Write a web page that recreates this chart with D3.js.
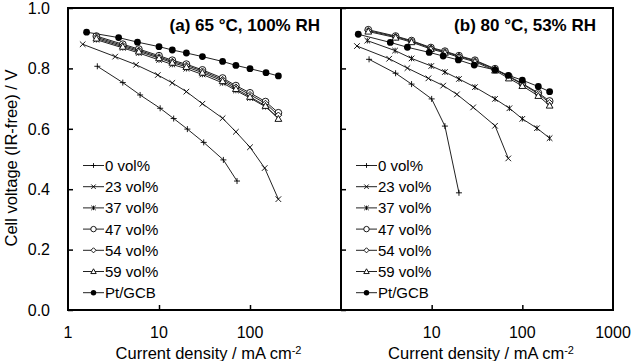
<!DOCTYPE html>
<html>
<head>
<meta charset="utf-8">
<script src="https://cdn.jsdelivr.net/npm/d3@7"></script>
<style>
  body { margin: 0; background: #fff; }
  text { font-family: "Liberation Sans", Arial, sans-serif; fill: #000; }
</style>
</head>
<body>
<div id="chart"></div>
<script>
// series names and marker kinds (legend order)
var seriesNames = ["0 vol%", "23 vol%", "37 vol%", "47 vol%", "54 vol%", "59 vol%", "Pt/GCB"];
var markerKinds = ["plus", "cross", "star", "circle", "diamond", "triangle", "dot"];

// (a) 65 °C, 100% RH   -- [current density mA cm-2, cell voltage V]
var a0  = [[2.1,.807],[4,.753],[6.2,.712],[10.3,.668],[14.5,.634],[20.5,.599],[31,.555],[51,.497],[72,.427]];
var a23 = [[1.45,.880],[3.3,.839],[5.6,.812],[9.7,.778],[14,.752],[20,.723],[30,.683],[50,.635],[70,.590],[100,.539],[145,.470],[205,.367]];
var a37 = [[2.05,.895],[4,.868],[6,.851],[10,.828],[14,.813],[20,.799],[30,.780],[50,.752],[70,.727],[100,.702],[148,.673],[205,.636]];
var a47 = [[2.05,.907],[4,.880],[6,.864],[10,.842],[14,.827],[20,.814],[30,.795],[50,.768],[70,.743],[100,.719],[148,.690],[205,.653]];
var a54 = [[2.05,.903],[4,.876],[6,.860],[10,.838],[14,.823],[20,.810],[30,.791],[50,.763],[70,.738],[100,.713],[148,.684],[205,.645]];
var a59 = [[2.05,.899],[4,.872],[6,.856],[10,.834],[14,.819],[20,.805],[30,.786],[50,.758],[70,.732],[100,.706],[148,.676],[205,.633]];
var aPt = [[1.6,.920],[3.6,.902],[5.8,.887],[10,.872],[14,.861],[20,.851],[30,.839],[50,.823],[70,.810],[100,.799],[150,.786],[205,.775]];

// (b) 80 °C, 53% RH
var b0  = [[2.04,.830],[4,.784],[6,.748],[10,.699],[14,.609],[20,.388]];
var b23 = [[1.5,.874],[3.4,.832],[5.4,.801],[9.2,.767],[13.4,.743],[19,.714],[28.7,.671],[50,.610],[70,.502]];
var b37 = [[1.95,.892],[3.95,.859],[6,.833],[9.9,.808],[14,.788],[20,.765],[30,.738],[50,.699],[72,.668],[100,.633],[145,.602],[200,.569]];
var b47 = [[2,.928],[4,.907],[6,.892],[9.8,.869],[14,.857],[20,.842],[30,.827],[50,.799],[71,.774],[100,.750],[150,.719],[200,.692]];
var b54 = [[2,.925],[4,.905],[6,.890],[9.8,.867],[14,.855],[20,.840],[30,.825],[50,.797],[71,.772],[100,.748],[150,.716],[200,.686]];
var b59 = [[2,.922],[4,.902],[6,.887],[9.8,.864],[14,.852],[20,.837],[30,.822],[50,.793],[71,.767],[100,.742],[150,.709],[200,.677]];
var bPt = [[1.55,.913],[3.5,.886],[5.4,.870],[9.4,.853],[13.4,.841],[19.7,.828],[29.5,.811],[50,.795],[70,.777],[100,.761],[150,.740],[200,.723]];

var yTicks = [0, 0.2, 0.4, 0.6, 0.8, 1.0];
var xTicksA = [1, 10, 100];
var xTicksB = [10, 100, 1000];
var panelTitles = ["(a) 65 °C, 100% RH", "(b) 80 °C, 53% RH"];

var W = 633, H = 361;
var plotTop = 8, plotBottom = 310;

var svg = d3.select("#chart").append("svg")
  .attr("width", W).attr("height", H);

var y = d3.scaleLinear().domain([0, 1]).range([plotBottom, plotTop]);

var panels = [
  {x: d3.scaleLog().domain([1, 1000]).range([68, 341]), data: [a0, a23, a37, a47, a54, a59, aPt],
   ticks: xTicksA, title: panelTitles[0], yLabels: true, titleRight: 320},
  {x: d3.scaleLog().domain([1, 1000]).range([341, 613]), data: [b0, b23, b37, b47, b54, b59, bPt],
   ticks: xTicksB, title: panelTitles[1], yLabels: false, titleRight: 596}
];

// marker shapes
function marker(g, kind, s) {
  if (kind == "plus") {
    g.append("path").attr("d", `M${-s},0H${s}M0,${-s}V${s}`).attr("stroke", "#000").attr("stroke-width", 0.9);
  } else if (kind == "cross") {
    g.append("path").attr("d", `M${-s},${-s}L${s},${s}M${-s},${s}L${s},${-s}`).attr("stroke", "#000").attr("stroke-width", 0.9);
  } else if (kind == "star") {
    g.append("path").attr("d", `M${-s},${-s}L${s},${s}M${-s},${s}L${s},${-s}M0,${-s}V${s}`).attr("stroke", "#000").attr("stroke-width", 0.9);
  } else if (kind == "circle") {
    g.append("circle").attr("r", s).attr("fill", "#fff").attr("stroke", "#000").attr("stroke-width", 0.9);
  } else if (kind == "diamond") {
    g.append("path").attr("d", `M0,${-s}L${s},0L0,${s}L${-s},0Z`).attr("fill", "#fff").attr("stroke", "#000").attr("stroke-width", 0.9);
  } else if (kind == "triangle") {
    g.append("path").attr("d", `M0,${-s}L${s},${s*0.75}L${-s},${s*0.75}Z`).attr("fill", "#fff").attr("stroke", "#000").attr("stroke-width", 0.9);
  } else {
    g.append("circle").attr("r", s).attr("fill", "#000");
  }
}
var markerSize = {plus: 3, cross: 2.8, star: 2.8, circle: 3.4, diamond: 3.2, triangle: 3.4, dot: 3.4};

var line = function(x) {
  return d3.line().x(d => x(d[0])).y(d => y(d[1]));
};

panels.forEach(function(p, pi) {
  var x = p.x;
  var g = svg.append("g");
  var x0 = x.range()[0], x1 = x.range()[1];

  // series
  p.data.forEach(function(series, si) {
    g.append("path")
      .datum(series)
      .attr("d", line(x))
      .attr("fill", "none")
      .attr("stroke", "#222")
      .attr("stroke-width", 1);
    series.forEach(function(d) {
      var m = g.append("g").attr("transform", `translate(${x(d[0])},${y(d[1])})`);
      marker(m, markerKinds[si], markerSize[markerKinds[si]]);
    });
  });

  // y axis ticks (inside)
  var yAxis = g.append("g").attr("transform", `translate(${x0},0)`)
    .call(d3.axisRight(y).tickValues(yTicks).tickSize(5).tickFormat(""));
  yAxis.select(".domain").remove();
  yAxis.selectAll("line").attr("stroke", "#000").attr("stroke-width", 1.5);
  if (p.yLabels) {
    yTicks.forEach(function(t) {
      g.append("text").attr("x", 50).attr("y", y(t)).attr("dy", "0.36em")
        .attr("text-anchor", "end").style("font-size", "16px").text(t.toFixed(1));
    });
  }

  // x axis ticks (inside)
  var xAxis = g.append("g").attr("transform", `translate(0,${plotBottom})`)
    .call(d3.axisTop(x).tickValues([10, 100]).tickSize(5).tickFormat(""));
  xAxis.select(".domain").remove();
  xAxis.selectAll("line").attr("stroke", "#000").attr("stroke-width", 1.5);
  p.ticks.forEach(function(t) {
    g.append("text").attr("x", x(t)).attr("y", 332).attr("dy", "0.36em")
      .attr("text-anchor", "middle").style("font-size", "16px").text(t);
  });

  // frame
  g.append("rect").attr("x", x0).attr("y", plotTop).attr("width", x1 - x0).attr("height", plotBottom - plotTop)
    .attr("fill", "none").attr("stroke", "#000").attr("stroke-width", 2);

  // panel title
  g.append("text").attr("x", p.titleRight).attr("y", 25).attr("dy", "0.36em")
    .attr("text-anchor", "end").style("font-size", "17px").style("font-weight", "bold").text(p.title);

  // x axis title
  var xt = g.append("text").attr("x", (x0 + x1) / 2 + 4).attr("y", 353).attr("dy", "0.36em")
    .attr("text-anchor", "middle").style("font-size", "16.5px");
  xt.append("tspan").text("Current density / mA cm");
  xt.append("tspan").attr("dy", "-0.45em").style("font-size", "11px").text("-2");

  // legend
  var lx = x0 + 15;
  seriesNames.forEach(function(name, i) {
    var ly = 165.5 + i * 21.2;
    g.append("line").attr("x1", lx).attr("x2", lx + 21).attr("y1", ly).attr("y2", ly)
      .attr("stroke", "#222").attr("stroke-width", 1);
    var m = g.append("g").attr("transform", `translate(${lx + 10.5},${ly})`);
    marker(m, markerKinds[i], markerSize[markerKinds[i]] * 0.8);
    g.append("text").attr("x", lx + 22).attr("y", ly).attr("dy", "0.36em")
      .style("font-size", "15px").text(name);
  });
});

// y axis title
svg.append("text")
  .attr("transform", "translate(17,158) rotate(-90)")
  .attr("text-anchor", "middle")
  .style("font-size", "16.5px")
  .text("Cell voltage (IR-free) / V");
</script>
</body>
</html>
